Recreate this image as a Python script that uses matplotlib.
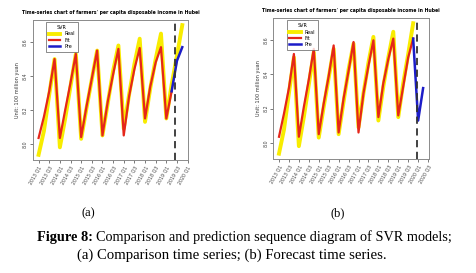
import numpy as np
import matplotlib
matplotlib.use('Agg')
import matplotlib.pyplot as plt

# quarterly data, 2013 Q1 .. 2019 Q4
quarters = [f"{y} Q{q}" for y in range(2013, 2021) for q in range(1, 5)]

real = [7.936, 8.076, 8.29, 8.50, 7.98, 8.15, 8.34, 8.53,
        8.03, 8.21, 8.38, 8.55, 8.05, 8.24, 8.43, 8.58,
        8.09, 8.29, 8.47, 8.62, 8.13, 8.33, 8.50, 8.65,
        8.15, 8.35, 8.52, 8.70]

# (a) comparison: fit up to 2019 Q2, prediction after
fit_a = [8.035, 8.16, 8.31, 8.50, 8.035, 8.20, 8.36, 8.53,
         8.04, 8.22, 8.385, 8.55, 8.05, 8.25, 8.41, 8.56,
         8.05, 8.28, 8.44, 8.565, 8.15, 8.34, 8.48, 8.57,
         8.15, 8.31]
pre_a_idx = [25, 26, 27]
pre_a = [8.31, 8.49, 8.57]
cut_a = 25.7

# (b) forecast: fit through 2019 Q4, forecast 2020 Q1-Q2
fit_b = [8.035, 8.17, 8.32, 8.52, 8.035, 8.21, 8.37, 8.55,
         8.05, 8.23, 8.39, 8.57, 8.06, 8.26, 8.42, 8.59,
         8.06, 8.29, 8.45, 8.60, 8.15, 8.35, 8.49, 8.61,
         8.16, 8.33, 8.50, 8.61]
pre_b_idx = [27, 28, 29]
pre_b = [8.61, 8.13, 8.32]
cut_b = 27.8

yticks = [8.0, 8.2, 8.4, 8.6]
title = "Time-series chart of farmers' per capita disposable income in Hubei"
ylab = "Unit: 100 million yuan"

c_real = '#f8ec00'
c_fit = '#e5261a'
c_pre = '#1c1cc8'

fig = plt.figure(figsize=(4.76, 2.73), dpi=100)


def panel(rect, fit, pidx, pre, cut, nx):
    ax = fig.add_axes(rect)
    x = np.arange(len(real))
    ax.plot(x, real, color=c_real, lw=2.8, label='Real')
    ax.plot(np.arange(len(fit)), fit, color=c_fit, lw=1.6, label='Fit')
    ax.plot(pidx, pre, color=c_pre, lw=1.8, label='Pre')
    ax.axvline(cut, color='#333333', lw=1.3, ls=(0, (4, 2.5)))
    lo, hi = min(real), max(real)
    pad = 0.04 * (hi - lo)
    ax.set_ylim(lo - pad, hi + pad)
    ax.set_xlim(-0.04 * (nx - 1), (nx - 1) * 1.04)
    ax.set_yticks(yticks)
    ax.set_yticklabels([f"{v:.1f}" for v in yticks], rotation=90, va='center')
    ticks = [i for i in range(0, 32, 2) if i <= (nx - 1) * 1.04]
    ax.set_xticks(ticks)
    ax.set_xticklabels([quarters[i] if i < len(quarters) else "2020 Q3" for i in ticks],
                       rotation=60, ha='right', rotation_mode='anchor')
    ax.tick_params(labelsize=3.4, length=2, width=0.5, colors='#444444', pad=1.5)
    for s in ax.spines.values():
        s.set_color('#8a8a8a')
        s.set_linewidth(0.7)
    ax.set_title(title, fontsize=3.35, fontweight='bold', pad=4)
    ax.set_ylabel(ylab, fontsize=3.6, color='#333333', labelpad=2)
    leg = ax.legend(loc='upper left', bbox_to_anchor=(0.07, 1.0), title='SVR',
                    fontsize=3.5, title_fontsize=3.5, frameon=True, fancybox=False,
                    edgecolor='#555555', handlelength=2.3, borderpad=0.6,
                    labelspacing=0.25)
    leg.get_frame().set_linewidth(0.6)
    return ax


panel([0.069, 0.414, 0.326, 0.513], fit_a, pre_a_idx, pre_a, cut_a, len(real))
panel([0.574, 0.418, 0.327, 0.516], fit_b, pre_b_idx, pre_b, cut_b, 30)

serif = 'Liberation Serif'
fig.text(88 / 476, 1 - 213 / 273, "(a)", fontsize=9, family=serif, ha='center', va='center')
fig.text(338 / 476, 1 - 213 / 273, "(b)", fontsize=9, family=serif, ha='center', va='center')

# first caption line: bold label followed by plain text
y1 = 1 - 237 / 273
bold = fig.text(37 / 476, y1, "Figure 8:", fontsize=10.3, family=serif,
                fontweight='bold', ha='left', va='center')
fig.canvas.draw()
bb = bold.get_window_extent(renderer=fig.canvas.get_renderer())
fig.text((bb.x1 + 3) / 476, y1, "Comparison and prediction sequence diagram of SVR models;",
         fontsize=10.3, family=serif, ha='left', va='center')
fig.text(232 / 476, 1 - 255 / 273, "(a) Comparison time series; (b) Forecast time series.",
         fontsize=10.6, family=serif, ha='center', va='center')

fig.savefig('out.png', dpi=100)
